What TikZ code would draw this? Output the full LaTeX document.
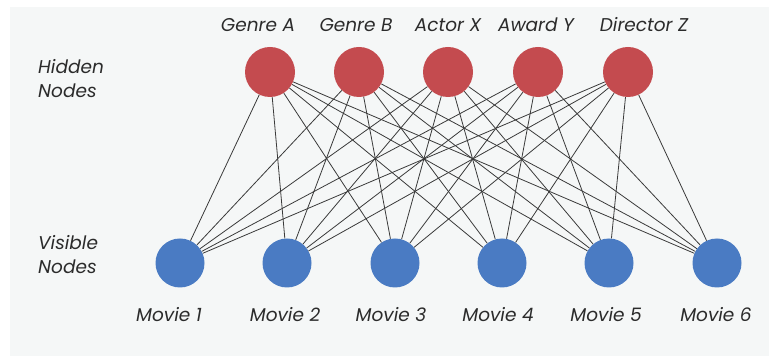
\documentclass[tikz,border=0pt]{standalone}
\usepackage{fontspec}
\setmainfont{Poppins}
\begin{document}
\begin{tikzpicture}[x=1pt,y=1pt,
  hid/.style={circle,fill=hidred,draw=none,minimum size=50pt,inner sep=0pt},
  vis/.style={circle,fill=visblue,draw=none,minimum size=49pt,inner sep=0pt},
  lab/.style={font=\fontsize{18.5}{24}\selectfont\itshape,text=txtgray,inner sep=0pt},
  edge/.style={draw=linegray,line width=0.8pt}]
\definecolor{hidred}{HTML}{C44B4F}
\definecolor{visblue}{HTML}{4A7BC3}
\definecolor{txtgray}{HTML}{2B2B2B}
\definecolor{linegray}{HTML}{3A3A3A}
\definecolor{bggray}{HTML}{F5F7F7}
\useasboundingbox (0,0) rectangle (769,356);
\fill[white] (0,0) rectangle (769,356);
\fill[bggray] (10,0) rectangle (769,349);
% hidden nodes
\node[hid] (h1) at (270,284) {};
\node[hid] (h2) at (359,284) {};
\node[hid] (h3) at (448,284) {};
\node[hid] (h4) at (538,284) {};
\node[hid] (h5) at (628,284) {};
% visible nodes
\node[vis] (v1) at (180,93) {};
\node[vis] (v2) at (287,93) {};
\node[vis] (v3) at (395,93) {};
\node[vis] (v4) at (502,93) {};
\node[vis] (v5) at (609,93) {};
\node[vis] (v6) at (717,93) {};
% edges
\foreach \i in {1,...,5}{
  \foreach \j in {1,...,6}{
    \draw[edge] (h\i) -- (v\j);
  }
}
% hidden labels
\node[lab] (lh1) at (258,331) {Genre A};
\node[lab] (lh2) at (356,331) {Genre B};
\node[lab] (lh3) at (448,331) {Actor X};
\node[lab] (lh4) at (536,331) {Award Y};
\node[lab] (lh5) at (644,331) {Director Z};
% visible labels
\node[lab] (lv1) at (169,41) {Movie 1};
\node[lab] (lv2) at (285,41) {Movie 2};
\node[lab] (lv3) at (391,41) {Movie 3};
\node[lab] (lv4) at (498,41) {Movie 4};
\node[lab] (lv5) at (606,41) {Movie 5};
\node[lab] (lv6) at (716,41) {Movie 6};
% side labels
\node[lab,align=left,anchor=west] (hn) at (38,277) {Hidden\\Nodes};
\node[lab,align=left,anchor=west] (vn) at (38,101) {Visible\\Nodes};
\end{tikzpicture}
\end{document}
